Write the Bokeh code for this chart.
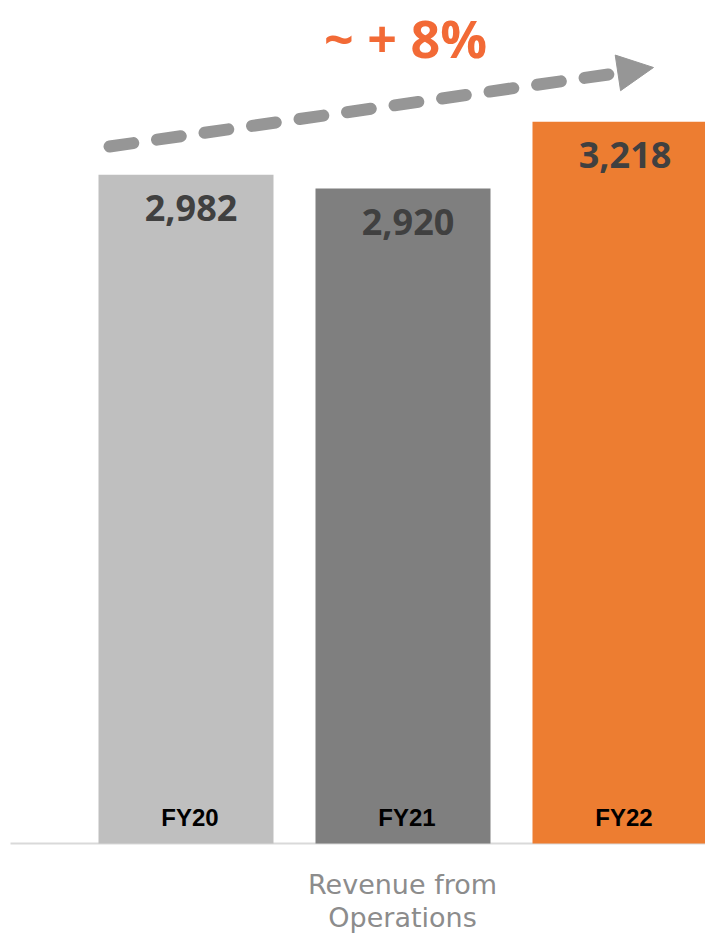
from bokeh.plotting import figure
from bokeh.models import Range1d, Arrow, NormalHead, Label
from bokeh.core.properties import value
from bokeh.embed import file_html
from bokeh.resources import INLINE

# ---- data ----
categories = ["FY20", "FY21", "FY22"]
revenue = [2982, 2920, 3218]
value_labels = ["2,982", "2,920", "3,218"]
bar_colors = ["#bfbfbf", "#7f7f7f", "#ed7d31"]
growth_label = "~ + 8%"
axis_title = ["Revenue from", "Operations"]

# ---- layout (pixel geometry -> data scales) ----
W, H = 705, 933
x0_px, step_px = 185.5, 217.0     # centre of first bar, spacing
base_px, k = 843.0, 0.2243        # baseline y (from top), px per unit

def xd(px):
    return (px - x0_px) / step_px

def yd(px_from_top):
    return (base_px - px_from_top) / k

p = figure(width=W, height=H, output_backend="svg", toolbar_location=None,
           x_range=Range1d(xd(0), xd(W)), y_range=Range1d(yd(H), yd(0)),
           min_border=0, outline_line_color=None)
p.axis.visible = False
p.grid.visible = False
p.background_fill_color = "white"
p.border_fill_color = "white"

idx = list(range(len(categories)))

# baseline
p.segment(x0=[xd(10)], y0=[0], x1=[xd(W)], y1=[0], line_color="#d9d9d9", line_width=2)

# bars
p.vbar(x=idx, top=revenue, bottom=0, width=175 / step_px,
       fill_color=bar_colors, line_color=None)

# value labels
p.text(x=[i + 5 / step_px for i in idx], y=[v - 33 / k for v in revenue], text=value_labels,
       text_align="center", text_baseline="middle",
       text_font=value("Open Sans"), text_font_style="bold",
       text_font_size="36px", text_color="#404040")

# category labels inside bars
p.text(x=[i + 4 / step_px for i in idx], y=[(base_px - 817) / k] * 3, text=categories,
       text_align="center", text_baseline="middle",
       text_font=value("Liberation Sans"), text_font_style="bold",
       text_font_size="24px", text_color="#000000")

# axis title below
p.text(x=[xd(402), xd(402)], y=[yd(884), yd(917)], text=axis_title,
       text_align="center", text_baseline="middle",
       text_font=value("DejaVu Sans"), text_font_size="27px", text_color="#8c8c8c")

# growth arrow: dashed shaft + solid head
p.line(x=[xd(109), xd(611)], y=[yd(146), yd(73.5)], line_color="#969696",
       line_width=12, line_dash="24 24", line_cap="round")
arrow = Arrow(end=NormalHead(size=36, fill_color="#969696", line_color="#969696", line_width=1),
              x_start=xd(600), y_start=yd(75), x_end=xd(653), y_end=yd(67),
              line_alpha=0)
p.add_layout(arrow)

p.add_layout(Label(x=xd(405), y=yd(37), text=growth_label, text_align="center",
                   text_baseline="middle", text_font="Open Sans", text_font_style="bold",
                   text_font_size="52px", text_color="#f26a36"))

open("out.html", "w").write(file_html(p, INLINE))
